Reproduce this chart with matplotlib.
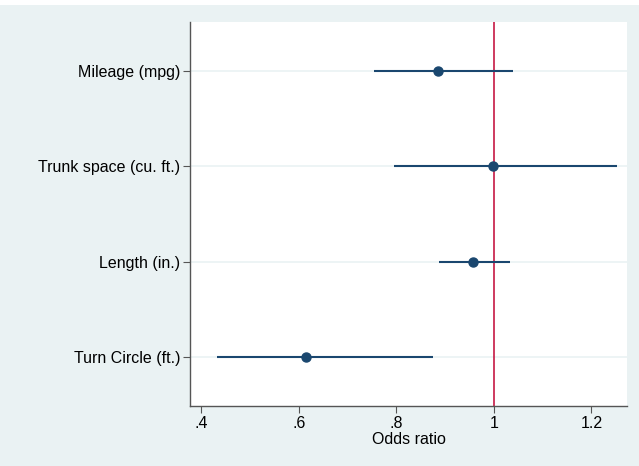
import numpy as np
import matplotlib.pyplot as plt
from matplotlib.patches import Rectangle

plt.rcParams['font.family'] = ['Liberation Sans', 'DejaVu Sans']

labels = ["Mileage (mpg)", "Trunk space (cu. ft.)", "Length (in.)", "Turn Circle (ft.)"]
odds = [0.885, 0.998, 0.957, 0.614]
ci_low = [0.754, 0.795, 0.887, 0.432]
ci_high = [1.039, 1.252, 1.033, 0.875]
xticks = [0.4, 0.6, 0.8, 1.0, 1.2]
xtick_labels = [".4", ".6", ".8", "1", "1.2"]

bg = "#eaf2f3"
navy = "#1a476f"
red = "#c10534"
fs = 11.5

fig = plt.figure(figsize=(6.39, 4.66), dpi=100)
fig.patch.set_facecolor(bg)
# thin white strip at the top, as in the original export
fig.patches.append(Rectangle((0, 1 - 5 / 466), 1, 5 / 466, transform=fig.transFigure,
                             facecolor="white", edgecolor="none", zorder=-1))

ax = fig.add_axes([190 / 639, 1 - 406 / 466, 437 / 639, 384 / 466])
ax.set_facecolor("white")

y = np.arange(len(labels))
for yi in y:
    ax.axhline(yi, color=bg, lw=1.2, zorder=0)

ax.axvline(1, color=red, lw=1.1, zorder=1)
ax.hlines(y, ci_low, ci_high, color=navy, lw=1.5, zorder=2)
ax.plot(odds, y, "o", color=navy, ms=6.5, zorder=3)

ax.set_xlim(0.377, 1.273)
ax.set_ylim(len(labels) - 0.48, -0.52)
ax.set_yticks(y)
ax.set_yticklabels(labels, fontsize=fs)
ax.set_xticks(xticks)
ax.set_xticklabels(xtick_labels, fontsize=fs)
ax.set_xlabel("Odds ratio", fontsize=fs, labelpad=1)

for s in ["top", "right"]:
    ax.spines[s].set_visible(False)
for s in ["left", "bottom"]:
    ax.spines[s].set_color("#555555")
    ax.spines[s].set_linewidth(1.0)
ax.tick_params(axis="both", direction="out", length=5, width=0.8, color="#555555", pad=2)

fig.savefig("out.png", dpi=100, facecolor=fig.get_facecolor())
